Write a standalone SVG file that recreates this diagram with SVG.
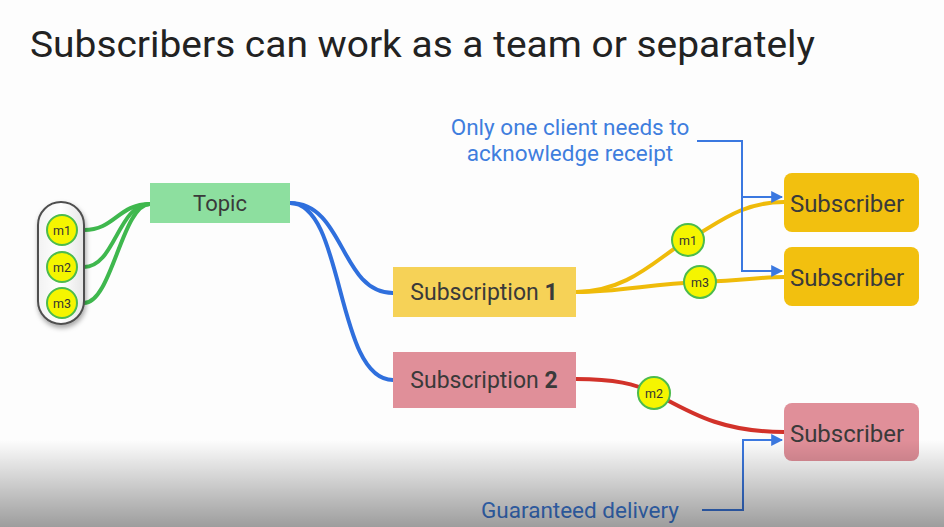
<svg xmlns="http://www.w3.org/2000/svg" width="944" height="527" viewBox="0 0 944 527">
  <defs>
    <style>
      .title { font-family: Roboto, "Open Sans", "Liberation Sans", sans-serif; font-size: 37px; fill: #222; }
      .label { font-family: Roboto, "Open Sans", "Liberation Sans", sans-serif; font-size: 22px; fill: #3a3a3a; }
      .wide { font-size: 23px; }
      .sub { font-family: Roboto, "Open Sans", "Liberation Sans", sans-serif; font-size: 24px; fill: #3a3a3a; }
      .note { font-family: Roboto, "Open Sans", "Liberation Sans", sans-serif; font-size: 22.5px; fill: #3f7ede; }
      .msg circle { fill: #f5f500; stroke: #4cbb4c; stroke-width: 2; }
      .msg text { font-family: Roboto, "Liberation Sans", sans-serif; font-size: 12.5px; fill: #333; text-anchor: middle; }
      .green { fill: none; stroke: #3fb84e; stroke-width: 4; stroke-linecap: round; }
      .blue { fill: none; stroke: #2f6fdd; stroke-width: 4; }
      .yellow { fill: none; stroke: #efbb0a; stroke-width: 4; }
      .red { fill: none; stroke: #d2322a; stroke-width: 4; }
      .pointer { fill: none; stroke: #3b78e0; stroke-width: 2; }
    </style>
    <marker id="arrow" viewBox="0 0 10 10" refX="9" refY="5" markerWidth="6" markerHeight="6" orient="auto" markerUnits="strokeWidth">
      <path d="M0,0 L10,5 L0,10 z" fill="#3b78e0"/>
    </marker>
    <linearGradient id="pillFill" x1="0" y1="0" x2="1" y2="0">
      <stop offset="0" stop-color="#f2f2f2"/>
      <stop offset="0.5" stop-color="#ffffff"/>
      <stop offset="1" stop-color="#e6e6e6"/>
    </linearGradient>
    <linearGradient id="fade" x1="0" y1="0" x2="0" y2="1">
      <stop offset="0" stop-color="#000" stop-opacity="0"/>
      <stop offset="1" stop-color="#000" stop-opacity="0.38"/>
    </linearGradient>
    <filter id="shadow" x="-30%" y="-10%" width="160%" height="130%">
      <feDropShadow dx="1" dy="3" stdDeviation="2.5" flood-color="#000" flood-opacity="0.35"/>
    </filter>
  </defs>

  <rect width="944" height="527" fill="#fdfdfd"/>

  <text class="title" x="30" y="57" textLength="785" lengthAdjust="spacingAndGlyphs">Subscribers can work as a team or separately</text>

  <!-- connectors -->
  <g id="connectors">
    <path class="green" d="M84,230 C115,230 118,204 150,204"/>
    <path class="green" d="M84,267 C115,267 118,204 150,204"/>
    <path class="green" d="M84,303 C112,303 122,204 150,204"/>
    <path class="blue" d="M290,203 C345,203 340,293 393,293"/>
    <path class="blue" d="M290,203 C345,203 335,380 393,380"/>
    <path class="yellow" d="M576,292 C630,292 660,255 688,240 S740,202 784,202"/>
    <path class="yellow" d="M576,292 C620,292 650,284 700,282 S760,277 784,277"/>
    <path class="red" d="M576,379 C615,379 635,384 654,393 C690,412 720,432 784,432"/>
    <path class="pointer" d="M697,141 H742 V271 H782" marker-end="url(#arrow)"/>
    <path class="pointer" d="M742,197 H782" marker-end="url(#arrow)"/>
    <path class="pointer" d="M702,510 H743 V440 H782" marker-end="url(#arrow)"/>
  </g>

  <!-- message queue -->
  <g id="queue">
    <rect x="38" y="202" width="46" height="122" rx="23" fill="url(#pillFill)" stroke="#505050" stroke-width="2" filter="url(#shadow)"/>
    <g class="msg" id="msg-m1"><circle cx="62" cy="230" r="15"/><text x="62" y="234.5">m1</text></g>
    <g class="msg" id="msg-m2"><circle cx="62" cy="267" r="15"/><text x="62" y="271.5">m2</text></g>
    <g class="msg" id="msg-m3"><circle cx="62" cy="303" r="15"/><text x="62" y="307.5">m3</text></g>
  </g>

  <g id="topic">
    <rect x="150" y="183" width="140" height="40" fill="#8ddf9f"/>
    <text class="label" x="220" y="211" text-anchor="middle">Topic</text>
  </g>

  <g id="subscription-1">
    <rect x="393" y="267" width="183" height="50" fill="#f6d257"/>
    <text class="label wide" x="484" y="300" text-anchor="middle">Subscription <tspan font-weight="bold">1</tspan></text>
  </g>

  <g id="subscription-2">
    <rect x="393" y="352" width="183" height="56" fill="#e08f99"/>
    <text class="label wide" x="484" y="388" text-anchor="middle">Subscription <tspan font-weight="bold">2</tspan></text>
  </g>

  <g id="subscriber-a">
    <rect x="784" y="173" width="135" height="59" rx="8" fill="#f2c00f"/>
    <text class="sub" x="847" y="212" text-anchor="middle">Subscriber</text>
  </g>

  <g id="subscriber-b">
    <rect x="784" y="247" width="135" height="59" rx="8" fill="#f2c00f"/>
    <text class="sub" x="847" y="286" text-anchor="middle">Subscriber</text>
  </g>

  <g id="subscriber-c">
    <rect x="784" y="403" width="135" height="58" rx="8" fill="#e08f99"/>
    <text class="sub" x="847" y="442" text-anchor="middle">Subscriber</text>
  </g>

  <!-- in-flight messages -->
  <g class="msg" id="msg-m1-out"><circle cx="688" cy="240" r="16"/><text x="688" y="244.5">m1</text></g>
  <g class="msg" id="msg-m3-out"><circle cx="700" cy="282" r="16"/><text x="700" y="286.5">m3</text></g>
  <g class="msg" id="msg-m2-out"><circle cx="654" cy="393" r="16"/><text x="654" y="397.5">m2</text></g>

  <g id="note-ack">
    <text class="note" x="570" y="135" text-anchor="middle">Only one client needs to</text>
    <text class="note" x="570" y="161" text-anchor="middle">acknowledge receipt</text>
  </g>

  <g id="note-delivery">
    <text class="note" x="580" y="518" text-anchor="middle" font-size="25">Guaranteed delivery</text>
  </g>

  <!-- darkening toward the lower edge -->
  <rect x="0" y="440" width="944" height="87" fill="url(#fade)"/>
</svg>
